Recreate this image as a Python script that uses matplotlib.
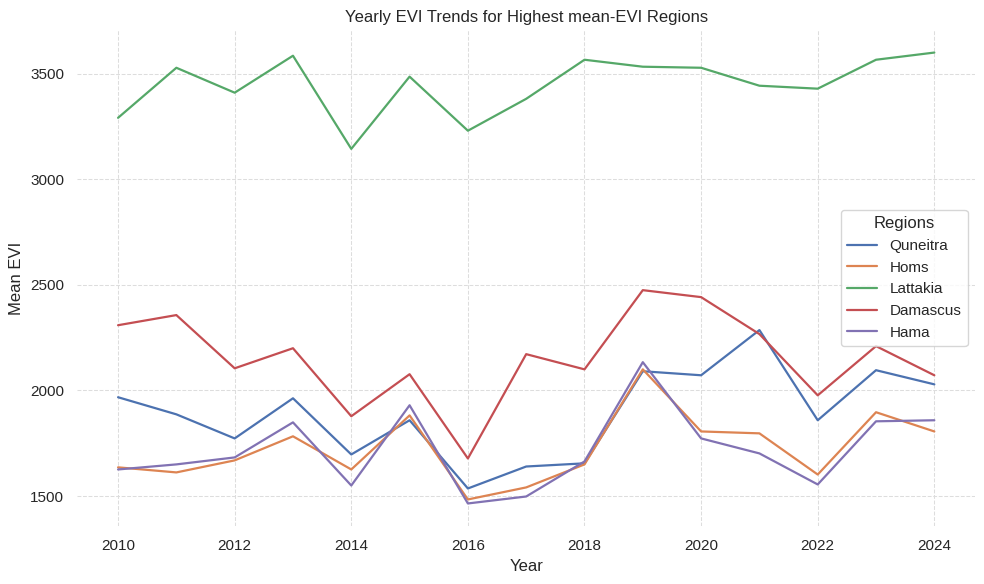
import matplotlib
matplotlib.use("Agg")
import matplotlib.pyplot as plt
import seaborn as sns

years = list(range(2010, 2025))
quneitra = [1968, 1887, 1773, 1963, 1697, 1859, 1536, 1640, 1655, 2091, 2072, 2286, 1859, 2096, 2029]
homs = [1636, 1612, 1669, 1783, 1626, 1882, 1484, 1541, 1650, 2100, 1806, 1797, 1602, 1897, 1806]
lattakia = [3291, 3528, 3410, 3585, 3144, 3486, 3230, 3381, 3566, 3533, 3528, 3443, 3429, 3566, 3600]
damascus = [2309, 2357, 2105, 2200, 1878, 2077, 1678, 2172, 2100, 2475, 2442, 2267, 1977, 2210, 2072]
hama = [1626, 1650, 1683, 1849, 1550, 1930, 1465, 1498, 1664, 2134, 1773, 1702, 1555, 1854, 1859]

series = {"Quneitra": quneitra, "Homs": homs, "Lattakia": lattakia,
          "Damascus": damascus, "Hama": hama}

sns.set_theme(style="whitegrid")
plt.rcParams['font.family'] = ['Liberation Sans', 'DejaVu Sans']
fig, ax = plt.subplots(figsize=(9.84, 5.84), dpi=100)
for name, vals in series.items():
    ax.plot(years, vals, label=name, linewidth=1.6)

ax.set_title("Yearly EVI Trends for Highest mean-EVI Regions")
ax.set_xlabel("Year")
ax.set_ylabel("Mean EVI")
ax.grid(True, linestyle="--", linewidth=0.75, color="#dddddd")
for s in ax.spines.values():
    s.set_visible(False)
ax.legend(title="Regions", loc="center right")
fig.subplots_adjust(left=0.0785, right=0.991, top=0.9486, bottom=0.0993)
fig.savefig("out.png", dpi=100)
